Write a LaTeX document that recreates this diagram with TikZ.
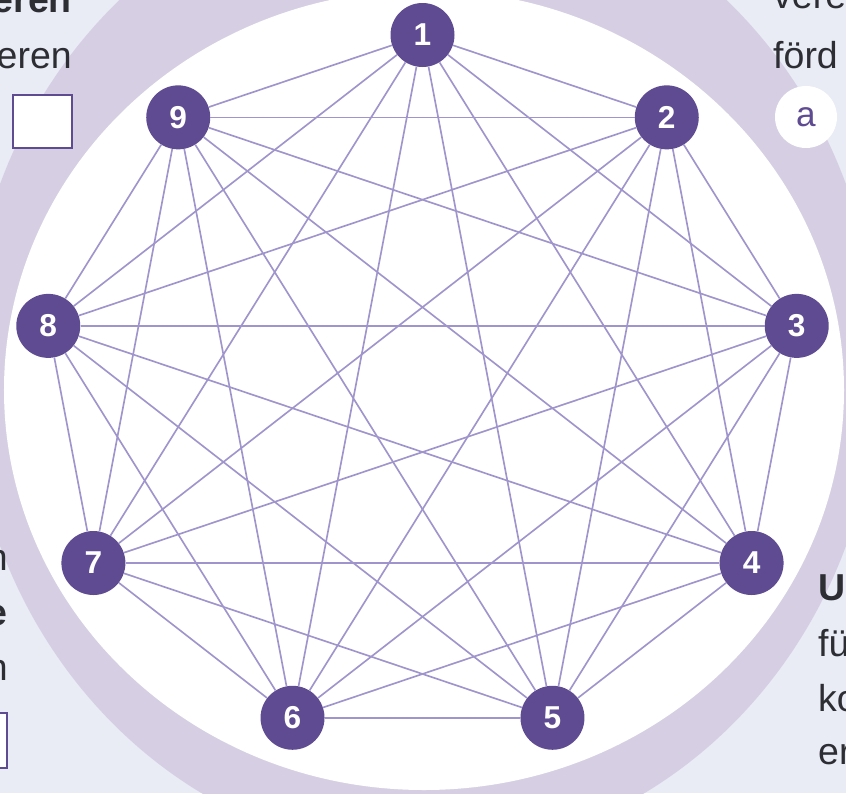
\documentclass[tikz,border=0pt]{standalone}
\usepackage{fontspec}
\setmainfont{Liberation Sans}
\usetikzlibrary{positioning}
\definecolor{pagebg}{RGB}{233,235,245}
\definecolor{ringlav}{RGB}{214,207,228}
\definecolor{nodepurple}{RGB}{95,75,146}
\definecolor{edgelav}{RGB}{160,148,204}
\definecolor{inktext}{RGB}{45,45,52}

\begin{document}
\begin{tikzpicture}[x=0.3mm,y=-0.3mm,
  vert/.style={circle,fill=nodepurple,text=white,minimum size=19.2mm,inner sep=0pt,font=\fontsize{27}{27}\selectfont\bfseries},
  edge/.style={edgelav,line width=1.4pt},
  side/.style={inner sep=0pt,text=inktext,font=\fontsize{32}{38}\selectfont},
  tickbox/.style={draw=nodepurple,fill=white,line width=0.7mm,inner sep=0pt}]
  \useasboundingbox (0,0) rectangle (846,793);
  \clip (0,0) rectangle (846,793);
  \fill[pagebg] (0,0) rectangle (846,793);
  \fill[ringlav] (423,365) ellipse [x radius=136.5mm,y radius=147mm];
  \fill[white] (424,390) ellipse [x radius=126mm,y radius=120mm];
  % text cut off at the left
  \node[side,anchor=base east,font=\fontsize{32}{38}\selectfont\bfseries] (lt1) at (72,12) {eren};
  \node[side,anchor=base east] (lt2) at (72,68) {eren};
  \node[tickbox,minimum width=17.7mm,minimum height=15.9mm] (lbox1) at (42.5,121.5) {};
  \node[side,anchor=base east] (lb1) at (8,570) {n};
  \node[side,anchor=base east,font=\fontsize{32}{38}\selectfont\bfseries] (lb2) at (8,625) {e};
  \node[side,anchor=base east] (lb3) at (8,680) {n};
  \node[tickbox,anchor=north east,minimum width=17.7mm,minimum height=16.5mm] (lbox2) at (8,712) {};
  % text cut off at the right
  \node[side,anchor=base west] (rt1) at (773,8) {vere};
  \node[side,anchor=base west] (rt2) at (773,68) {förd};
  \node[circle,fill=white,minimum size=18.6mm,inner sep=0pt,text=nodepurple,font=\fontsize{30}{30}\selectfont] (pick) at (806,117) {a};
  \node[side,anchor=base west,font=\fontsize{32}{38}\selectfont\bfseries] (rb1) at (818,600) {U};
  \node[side,anchor=base west] (rb2) at (818,656) {fü};
  \node[side,anchor=base west] (rb3) at (818,711) {ko};
  \node[side,anchor=base west] (rb4) at (818,764) {er};
  % the nine vertices and all their links
  \foreach \i in {1,...,9}
    \node[vert] (n\i) at ({422.5+380*cos(90-40*(\i-1))},{387-352*sin(90-40*(\i-1))}) {\i};
  \foreach \i in {1,...,8}{
    \pgfmathtruncatemacro\nxt{\i+1}
    \foreach \j in {\nxt,...,9} \draw[edge] (n\i) -- (n\j);
  }
\end{tikzpicture}
\end{document}
